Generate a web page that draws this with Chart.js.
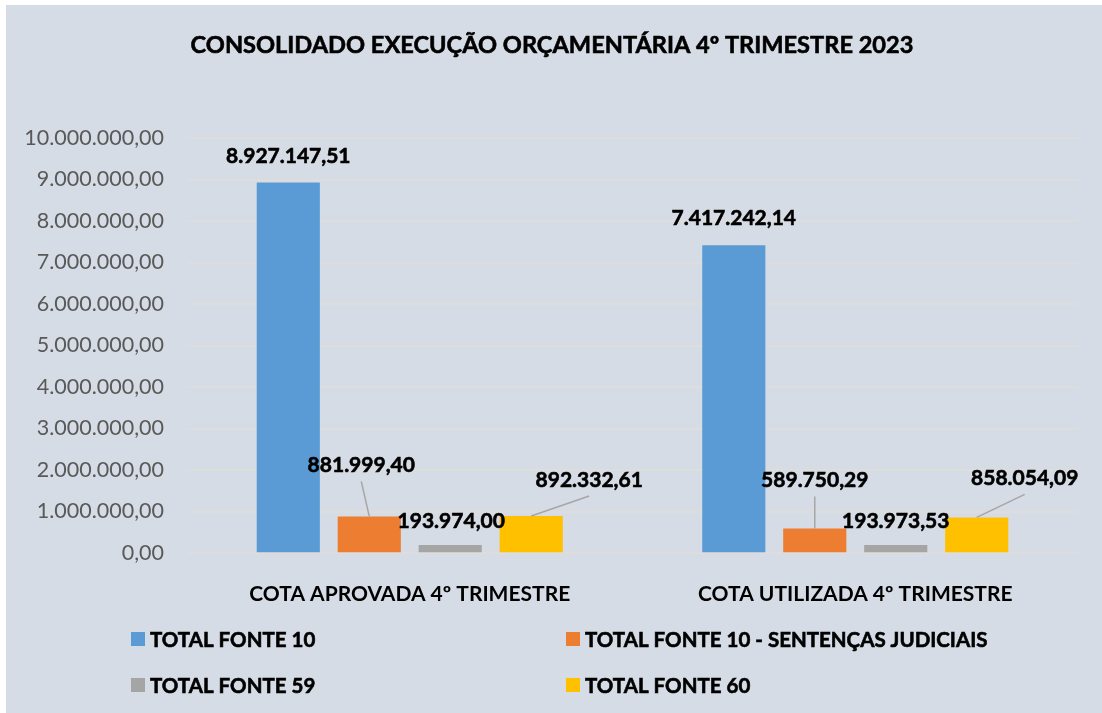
<!DOCTYPE html>
<html>
<head>
<meta charset="utf-8">
<script src="https://cdn.jsdelivr.net/npm/chart.js@4.4.0/dist/chart.umd.min.js"></script>
<style>
  html,body{margin:0;padding:0;background:#ffffff;}
  .box{position:absolute;left:6px;top:5px;width:1096px;height:708px;background:#d6dce5;}
</style>
</head>
<body>
<div class="box"><canvas id="myChart" width="1096" height="708"></canvas></div>
<script>
const titleText='CONSOLIDADO EXECUÇÃO ORÇAMENTÁRIA 4º TRIMESTRE 2023'
const categories=['COTA APROVADA 4º TRIMESTRE','COTA UTILIZADA 4º TRIMESTRE']
const seriesNames=['TOTAL FONTE 10','TOTAL FONTE 10 - SENTENÇAS JUDICIAIS','TOTAL FONTE 59','TOTAL FONTE 60']
const fonte10=[8927147.51,7417242.14]
const fonte10Sentencas=[881999.40,589750.29]
const fonte59=[193974.00,193973.53]
const fonte60=[892332.61,858054.09]
const yMin=0
const yMax=10000000
const yStep=1000000

const colors=['#5b9bd5','#ed7d31','#a5a5a5','#ffc000']
const font="Lato, 'Open Sans', sans-serif"

// where each value label sits relative to its bar (center x, top y), and if it gets a leader line
const labelOffsets=[
    [{dx:0,dy:-26},{dx:0,dy:-27}],
    [{dx:-8,dy:-51,leader:true},{dx:0,dy:-48,leader:true}],
    [{dx:1,dy:-24},{dx:0,dy:-24}],
    [{dx:58,dy:-36,leader:true},{dx:48,dy:-39,leader:true}],
]

function brNumber(v){
    const parts=v.toFixed(2).split('.')
    const int=parts[0].replace(/\B(?=(\d{3})+(?!\d))/g,'.')
    return int+','+parts[1]
}

// bold text drawn a touch heavier, closer to the original look
function heavyText(ctx,txt,x,y){
    ctx.lineWidth=0.6
    ctx.strokeStyle=ctx.fillStyle
    ctx.strokeText(txt,x,y)
    ctx.fillText(txt,x,y)
}

const extras={
    id:'extras',
    afterDatasetsDraw(chart){
        const ctx=chart.ctx
        ctx.save()
        ctx.textAlign='center'
        ctx.textBaseline='middle'
        chart.data.datasets.forEach((ds,i)=>{
            const meta=chart.getDatasetMeta(i)
            meta.data.forEach((bar,j)=>{
                const off=labelOffsets[i][j]
                const lx=bar.x+off.dx
                const ly=bar.y+off.dy
                if(off.leader){
                    ctx.strokeStyle='#a6a6a6'
                    ctx.lineWidth=1.5
                    ctx.beginPath()
                    ctx.moveTo(lx,ly+16)
                    ctx.lineTo(bar.x,bar.y)
                    ctx.stroke()
                }
                ctx.fillStyle='#000000'
                ctx.font='bold 21px '+font
                heavyText(ctx,brNumber(ds.data[j]),lx,ly)
            })
        })
        ctx.restore()
    },
    afterDraw(chart){
        const ctx=chart.ctx
        ctx.save()
        // title
        ctx.fillStyle='#000000'
        ctx.textAlign='center'
        ctx.textBaseline='middle'
        ctx.font='bold 23.6px '+font
        heavyText(ctx,titleText,546,40)
        // legend, two columns
        ctx.textAlign='left'
        ctx.font='bold 20.5px '+font
        const cols=[125,560]
        const rows=[634,680]
        chart.data.datasets.forEach((ds,i)=>{
            const x=cols[i%2]
            const y=rows[Math.floor(i/2)]
            ctx.fillStyle=ds.backgroundColor
            ctx.fillRect(x,y-7,14,14)
            ctx.fillStyle='#000000'
            heavyText(ctx,ds.label,x+19,y+1)
        })
        ctx.restore()
    }
}

const seriesValues=[fonte10,fonte10Sentencas,fonte59,fonte60]
const ctx=document.getElementById('myChart')
new Chart(ctx,{
    type:'bar',
    data:{
        labels:categories,
        datasets:seriesNames.map((name,i)=>({
            label:name,
            data:seriesValues[i],
            backgroundColor:colors[i],
            borderWidth:0,
            categoryPercentage:0.727,
            barPercentage:0.78,
        }))
    },
    options:{
        responsive:false,
        animation:false,
        layout:{padding:{top:133,left:20,right:24,bottom:0}},
        plugins:{
            legend:{display:false},
            title:{display:false},
            tooltip:{enabled:false},
        },
        scales:{
            x:{
                grid:{display:false},
                border:{display:false},
                ticks:{color:'#000000',font:{family:font,size:21,weight:'bold'},padding:21},
                afterFit(scale){scale.height=160}
            },
            y:{
                min:yMin,
                max:yMax,
                grid:{color:'#e0ddd8',lineWidth:1.5,drawTicks:false},
                border:{display:false},
                ticks:{
                    stepSize:yStep,
                    color:'#595959',
                    font:{family:font,size:21.5},
                    padding:23,
                    callback:v=>brNumber(v)
                },
                afterFit(scale){scale.width=161}
            }
        }
    },
    plugins:[extras]
})
</script>
</body>
</html>
